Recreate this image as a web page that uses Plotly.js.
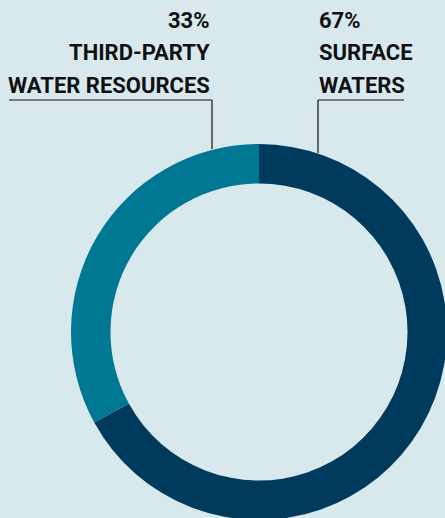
<!DOCTYPE html>
<html>
<head>
<meta charset="utf-8">
<script src="https://cdn.plot.ly/plotly-3.0.1.min.js"></script>
<style>
html,body{margin:0;padding:0;overflow:hidden;background:#d8e9ee;width:445px;height:518px;}
#chart{width:460px;height:540px;}
</style>
</head>
<body>
<div id="chart"></div>
<script>
// Data (drawn clockwise from 12 o'clock)
const categories = ["Surface waters", "Third-party water resources"];
const shares = [67, 33];
const pctLabels = ["67%", "33%"];
const labelLines = [["SURFACE", "WATERS"], ["THIRD-PARTY", "WATER RESOURCES"]];
const colors = ["#003a5c", "#007894"];

const W = 460, H = 540;
const px = x => x / W;
const py = y => 1 - y / H;

// Donut geometry (pixels in the div)
const cx = 259, cy = 332, R = 188;

const trace = {
  type: "pie",
  labels: categories,
  values: shares,
  sort: false,
  direction: "clockwise",
  rotation: 0,
  hole: 0.79,
  textinfo: "none",
  hoverinfo: "label+percent",
  marker: { colors: colors, line: { width: 0 } },
  domain: { x: [px(cx - R), px(cx + R)], y: [py(cy + R), py(cy - R)] },
  showlegend: false
};

const font = { family: "Roboto, 'DejaVu Sans', sans-serif", size: 22, color: "#111111", weight: 700 };
const lineYs = [21, 53, 85];
const annotations = [];
const anchorX = [317, 212];
const xanchors = ["left", "right"];
for (let i = 0; i < 2; i++) {
  const lines = [pctLabels[i]].concat(labelLines[i]);
  lines.forEach((t, j) => {
    annotations.push({
      xref: "paper", yref: "paper",
      x: px(anchorX[i]), y: py(lineYs[j]),
      xanchor: xanchors[i], yanchor: "middle",
      text: "<b>" + t + "</b>",
      showarrow: false,
      font: font
    });
  });
}

const lineStyle = { color: "#3a3a3a", width: 1.5 };
const shapes = [
  { type: "line", xref: "paper", yref: "paper", x0: px(9), x1: px(212), y0: py(100), y1: py(100), line: { color: "#555555", width: 1.5 } },
  { type: "line", xref: "paper", yref: "paper", x0: px(212), x1: px(212), y0: py(100), y1: py(149), line: lineStyle },
  { type: "line", xref: "paper", yref: "paper", x0: px(318), x1: px(404), y0: py(100), y1: py(100), line: { color: "#555555", width: 1.5 } },
  { type: "line", xref: "paper", yref: "paper", x0: px(318), x1: px(318), y0: py(100), y1: py(153), line: lineStyle }
];

const layout = {
  width: W, height: H,
  margin: { l: 0, r: 0, t: 0, b: 0, pad: 0 },
  paper_bgcolor: "#d8e9ee",
  plot_bgcolor: "#d8e9ee",
  annotations: annotations,
  shapes: shapes,
  showlegend: false
};

Plotly.newPlot("chart", [trace], layout, { displayModeBar: false, staticPlot: true });
</script>
</body>
</html>
